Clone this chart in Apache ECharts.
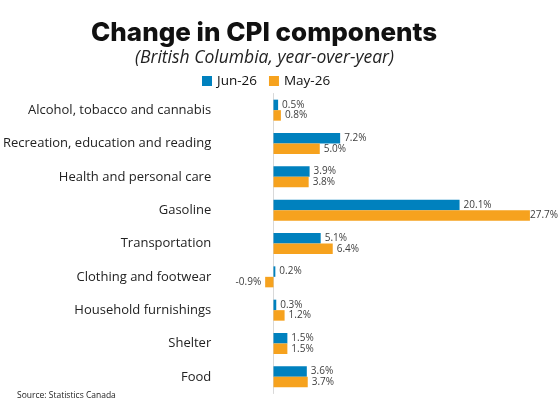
<!DOCTYPE html>
<html><head><meta charset="utf-8">
<script src="https://cdn.jsdelivr.net/npm/echarts@6/dist/echarts.min.js"></script>
<style>html,body{margin:0;padding:0;background:#fff}#c{width:560px;height:406px}</style>
</head><body><div id="c"></div>
<script>
const categories = ["Alcohol, tobacco and cannabis","Recreation, education and reading","Health and personal care","Gasoline","Transportation","Clothing and footwear","Household furnishings","Shelter","Food"];
const jun26 = [0.5, 7.2, 3.9, 20.1, 5.1, 0.2, 0.3, 1.5, 3.6];
const may26 = [0.8, 5.0, 3.8, 27.7, 6.4, -0.9, 1.2, 1.5, 3.7];
const seriesNames = ["Jun-26", "May-26"];

function mk(arr){
  return arr.map(v => v < 0 ? {value: v, label: {position: 'left'}} : v);
}
const labelCfg = {show: true, position: 'right', distance: 4, fontFamily: 'Open Sans', fontSize: 10, color: '#404040', formatter: p => p.value.toFixed(1) + '%'};
function keepInside(params){
  const r = params.labelRect;
  const over = r.x + r.width - 558;
  return over > 0 ? {dx: -over} : {};
}
const chart = echarts.init(document.getElementById('c'));
chart.setOption({
  animation: false,
  title: [{
    text: 'Change in CPI components', left: 86, top: 15,
    textStyle: {fontFamily: 'Inter', fontWeight: 800, fontSize: 26, color: '#111'}
  },{
    text: '(British Columbia, year-over-year)', left: 130, top: 44,
    textStyle: {fontFamily: 'Open Sans', fontStyle: 'italic', fontWeight: 'normal', fontSize: 17.5, color: '#222'}
  },{
    text: 'Source: Statistics Canada', left: 12, top: 386,
    textStyle: {fontFamily: 'Open Sans', fontWeight: 'normal', fontSize: 8.5, color: '#222'}
  }],
  legend: {
    top: 69, left: 197, itemWidth: 10, itemHeight: 10, itemGap: 12,
    icon: 'rect',
    textStyle: {fontFamily: 'Open Sans', fontSize: 13.5, color: '#111'},
    data: seriesNames
  },
  grid: {left: 262.7, right: 27.3, top: 93.5, bottom: 12.5, containLabel: false},
  xAxis: {
    type: 'value', min: -1, max: 28, show: false,
    splitLine: {show: false}
  },
  yAxis: {
    type: 'category', data: categories, inverse: true,
    axisLine: {show: true, lineStyle: {color: '#d9d9d9', width: 1}},
    axisTick: {show: false},
    axisLabel: {margin: 53, fontFamily: 'Open Sans', fontSize: 13, color: '#222'}
  },
  series: [{
    name: seriesNames[0], type: 'bar', data: mk(jun26), barGap: '0%', barCategoryGap: '37%',
    itemStyle: {color: '#0081BE'}, label: labelCfg, labelLayout: keepInside
  },{
    name: seriesNames[1], type: 'bar', data: mk(may26), barGap: '0%', barCategoryGap: '37%',
    itemStyle: {color: '#F6A21E'}, label: labelCfg, labelLayout: keepInside
  }]
});
</script></body></html>
